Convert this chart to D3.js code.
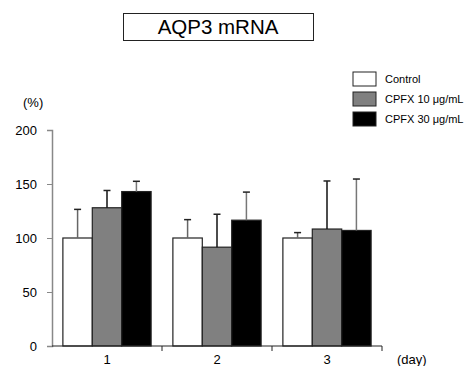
<!DOCTYPE html>
<html><head><meta charset="utf-8">
<script src="https://cdn.jsdelivr.net/npm/d3@7"></script>
<style>body{margin:0;background:#fff}svg{display:block;font-family:"Liberation Sans",Arial,sans-serif}</style>
</head><body><svg id="c" width="466" height="366"></svg>
<script>
const days = ["1","2","3"];
const seriesNames = ["Control","CPFX 10 μg/mL","CPFX 30 μg/mL"];
const means = [[100,100,100],[128,91.5,108.3],[143,116.5,107]];
const errTops = [[126.5,117,105],[144,122,152.8],[152.5,142.5,154.6]];
const yTicks = [0,50,100,150,200];
const fills = ["#ffffff","#808080","#000000"];
const errLine = ["#666666","#111111","#777777"];

const svg = d3.select("#c");
const x0 = 52, x1 = 382, yB = 346, yT = 130;
const x = d3.scaleBand().domain(days).range([x0,x1]).paddingInner(0).paddingOuter(0);
const xs = d3.scaleBand().domain(d3.range(3)).range([0,x.bandwidth()]).paddingOuter(0.37).paddingInner(0);
const y = d3.scaleLinear().domain([0,200]).range([yB,yT]);

// title box
svg.append("rect").attr("x",123.5).attr("y",13.5).attr("width",190).attr("height",27).attr("fill","#fff").attr("stroke","#222");
svg.append("text").attr("x",218).attr("y",34).attr("text-anchor","middle").attr("font-size",20.5).text("AQP3 mRNA");

// y axis
const ya = svg.append("g").attr("transform",`translate(${x0},0)`).call(d3.axisLeft(y).tickValues(yTicks).tickSize(5).tickPadding(10));
ya.select(".domain").attr("stroke","#888").attr("stroke-width",1.5);
ya.selectAll(".tick line").attr("stroke","#888");
ya.selectAll("text").attr("font-size",13).attr("font-family","Liberation Sans, Arial").attr("fill","#000");
svg.append("text").attr("x",23).attr("y",107).attr("font-size",13).text("(%)");

// bars
days.forEach((d,di)=>{
  seriesNames.forEach((s,si)=>{
    const bx = x(d)+xs(si), bw = xs.bandwidth();
    svg.append("rect").attr("x",bx).attr("y",y(means[si][di])).attr("width",bw).attr("height",yB-y(means[si][di]))
      .attr("fill",fills[si]).attr("stroke","#222").attr("stroke-width",1.2);
    const cx = bx+bw/2;
    svg.append("line").attr("x1",cx).attr("x2",cx).attr("y1",y(means[si][di])).attr("y2",y(errTops[si][di]))
      .attr("stroke",errLine[si]).attr("stroke-width",1.5);
    svg.append("line").attr("x1",cx-3.5).attr("x2",cx+3.5).attr("y1",y(errTops[si][di])).attr("y2",y(errTops[si][di]))
      .attr("stroke","#222").attr("stroke-width",1.5);
  });
});

// x axis
const xa = svg.append("g").attr("transform",`translate(0,${yB})`).call(d3.axisBottom(x).tickSize(0).tickPadding(9));
xa.select(".domain").remove();
xa.selectAll("text").attr("font-size",13).attr("font-family","Liberation Sans, Arial").attr("fill","#000");
svg.append("line").attr("x1",x0).attr("x2",x1).attr("y1",yB).attr("y2",yB).attr("stroke","#222").attr("stroke-width",1.2);
days.forEach(d=>{
  const tx = x(d)+x.bandwidth();
  svg.append("line").attr("x1",tx).attr("x2",tx).attr("y1",yB).attr("y2",yB+5).attr("stroke","#222");
});
svg.append("text").attr("x",397).attr("y",364).attr("font-size",13).text("(day)");

// legend
seriesNames.forEach((s,i)=>{
  const ly = 72 + i*20;
  svg.append("rect").attr("x",353).attr("y",ly).attr("width",23).attr("height",14).attr("fill",fills[i]).attr("stroke","#222");
  svg.append("text").attr("x",385).attr("y",ly+11).attr("font-size",11).text(s);
});
</script></body></html>
